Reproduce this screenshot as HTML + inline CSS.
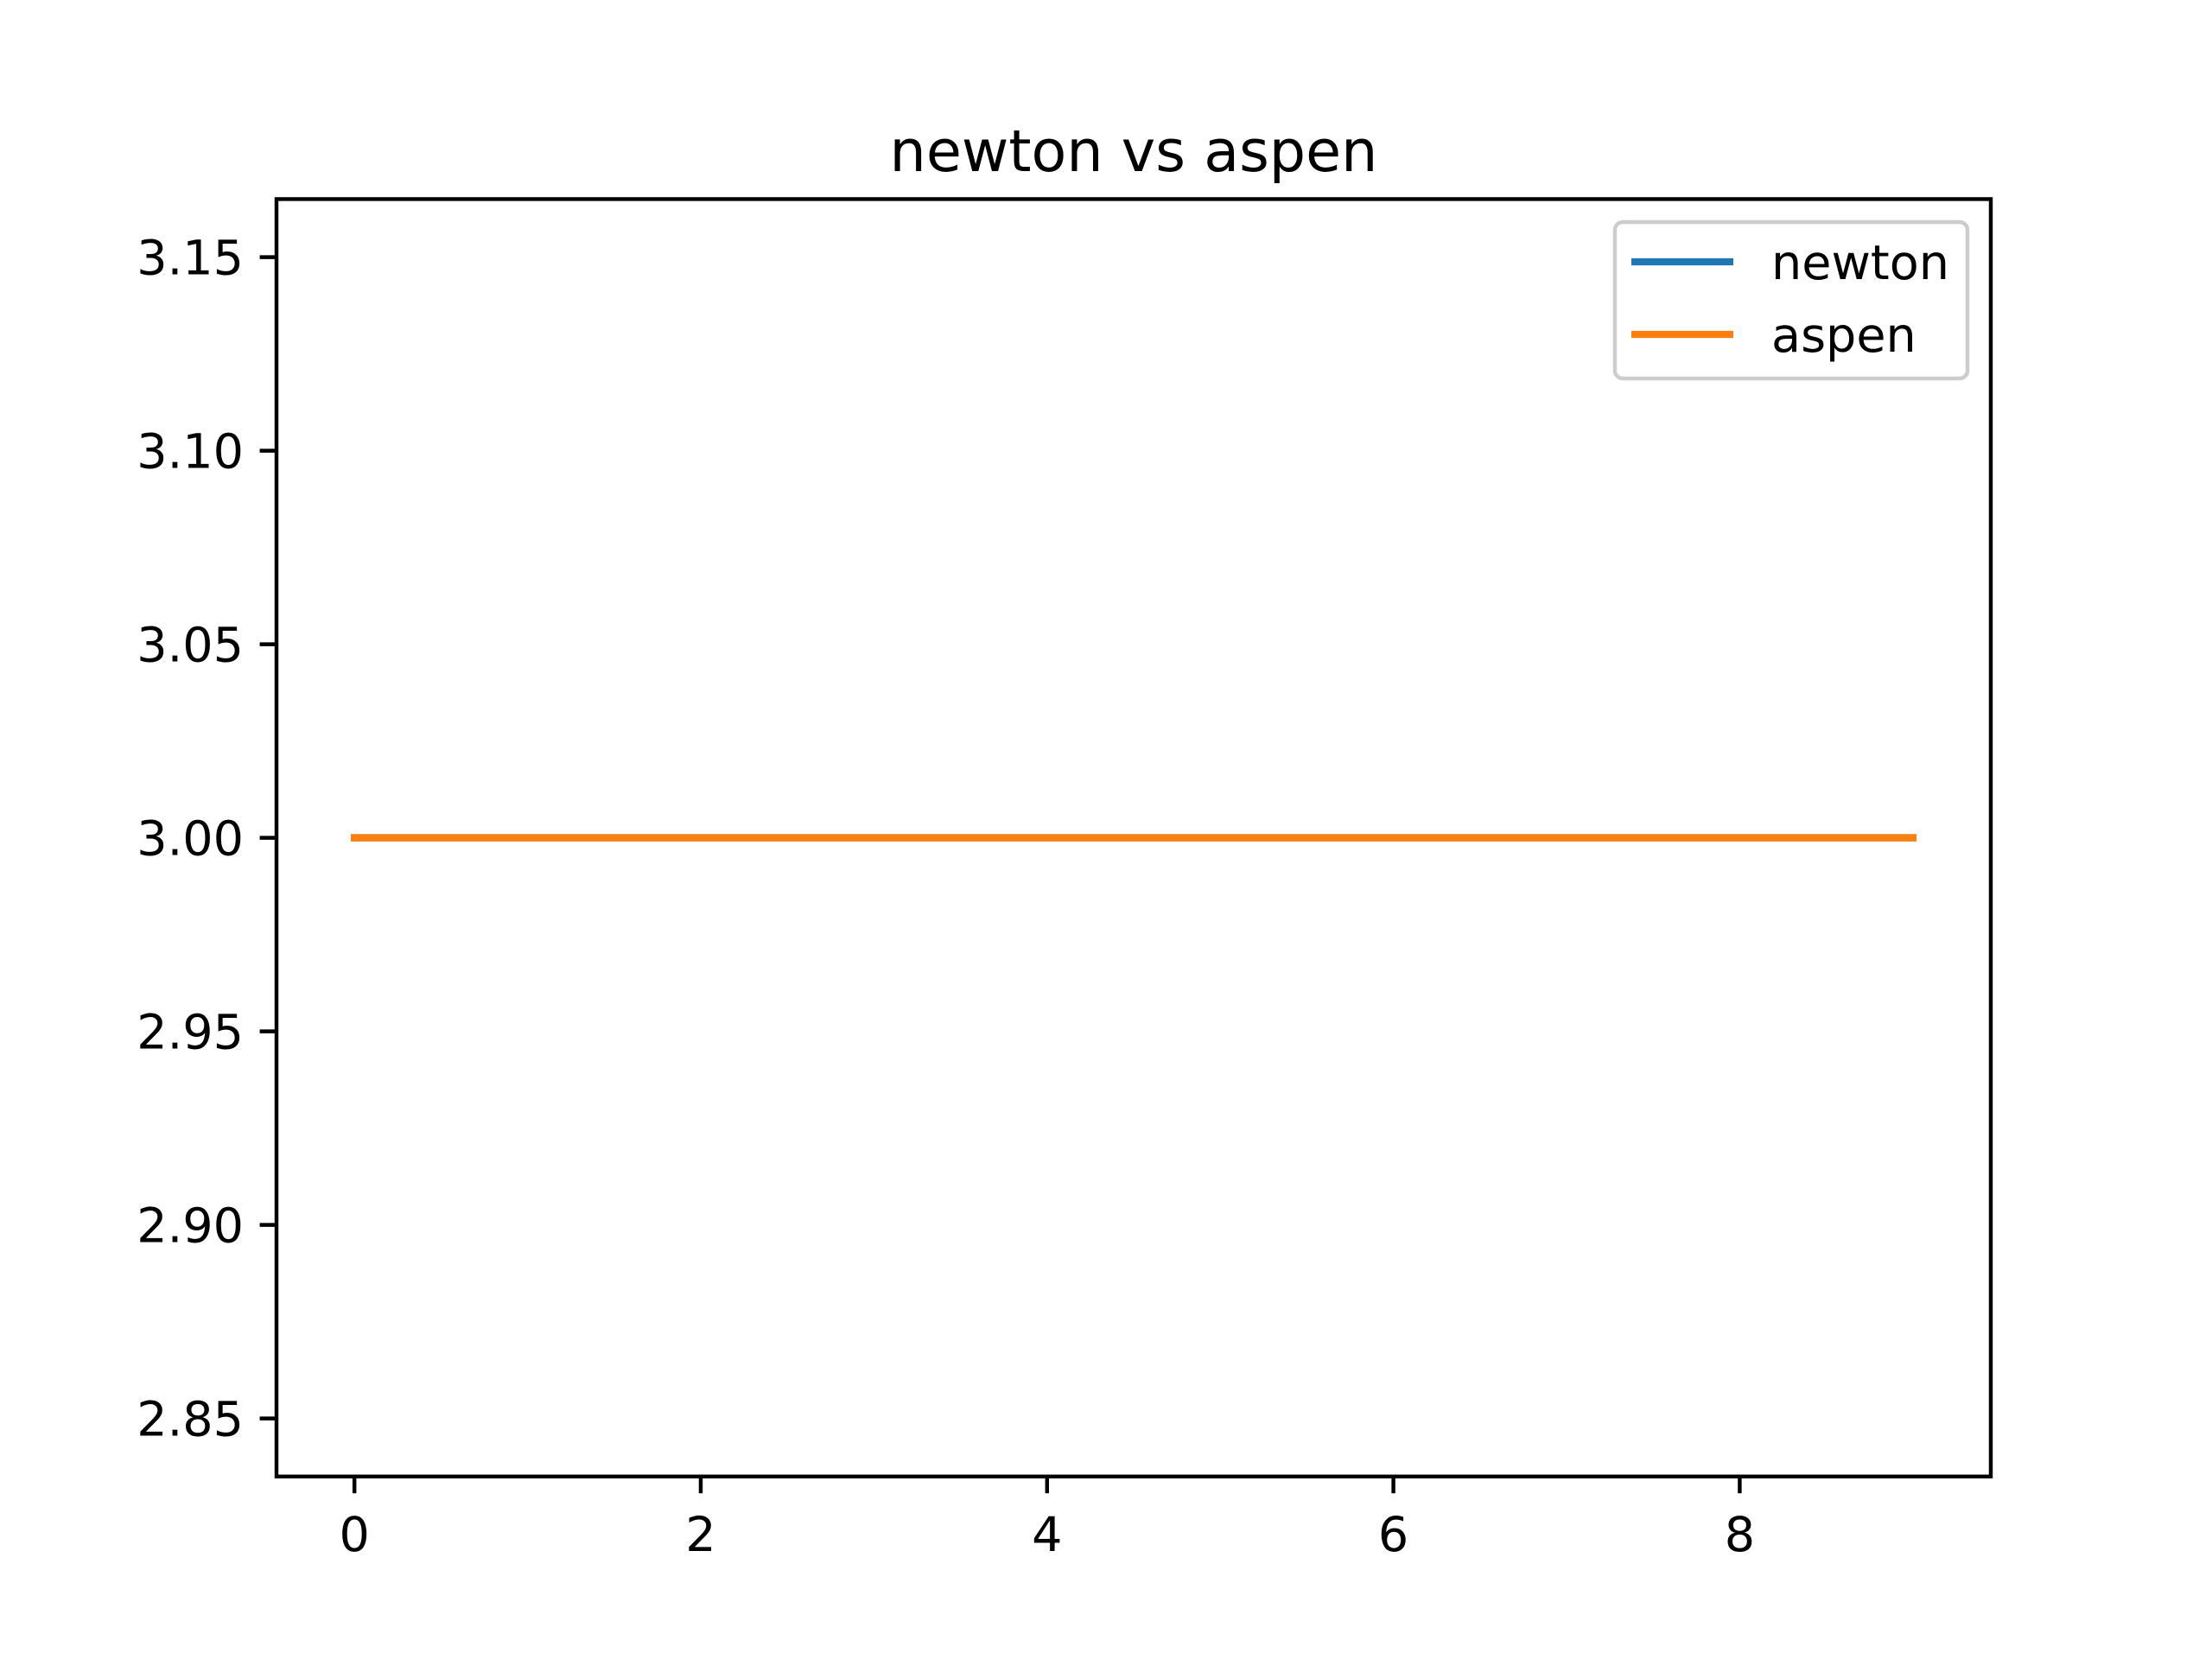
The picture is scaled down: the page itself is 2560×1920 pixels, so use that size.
<!DOCTYPE html>
<html><head><meta charset="utf-8"><style>
html,body{margin:0;padding:0;background:#fff;}
svg{display:block;font-family:"DejaVu Sans","Liberation Sans",sans-serif;}
</style></head><body>
<svg id="chart" width="2560" height="1920" viewBox="0 0 2560 1920" xmlns="http://www.w3.org/2000/svg">
<rect width="2560" height="1920" fill="#fff"/>
<text x="1312" y="198" font-size="66.7" text-anchor="middle" fill="#000">newton vs aspen</text>
<g id="plot"></g>
</svg>
<script>
const xValues = [0,1,2,3,4,5,6,7,8,9];
const newtonValues = [3,3,3,3,3,3,3,3,3,3];
const aspenValues = [3,3,3,3,3,3,3,3,3,3];
const xTicks = [0,2,4,6,8];
const yTicks = [2.85,2.90,2.95,3.00,3.05,3.10,3.15];
const yTickLabels = ["2.85","2.90","2.95","3.00","3.05","3.10","3.15"];

const L=320,R=2304,T=230.4,B=1708.8;
const xMin=-0.45,xMax=9.45,yMin=2.835,yMax=3.165;
const sx=v=>L+(v-xMin)/(xMax-xMin)*(R-L);
const sy=v=>B-(v-yMin)/(yMax-yMin)*(B-T);
const NS="http://www.w3.org/2000/svg";
const g=document.getElementById('plot');
function mk(tag,attrs,parent){const e=document.createElementNS(NS,tag);for(const k in attrs)e.setAttribute(k,attrs[k]);(parent||g).appendChild(e);return e;}

xTicks.forEach(t=>{
  const tk=mk('line',{x1:sx(t),x2:sx(t),y1:B,y2:B+19.4,stroke:'#000','stroke-width':4.44});
  
  
  const tx=mk('text',{x:sx(t),y:B+86,'font-size':55.6,'text-anchor':'middle',fill:'#000'});
  tx.textContent=String(t);
  
  
});
yTicks.forEach((t,i)=>{
  const tk=mk('line',{x1:L-19.4,x2:L,y1:sy(t),y2:sy(t),stroke:'#000','stroke-width':4.44});
  
  
  const tx=mk('text',{x:L-38,y:sy(t)+20,'font-size':55.6,'text-anchor':'end',fill:'#000'});
  tx.textContent=yTickLabels[i];
  
  
});
function series(vals,color,name){
  const p=mk('polyline',{points:xValues.map((x,i)=>sx(x)+','+sy(vals[i])).join(' '),fill:'none',stroke:color,'stroke-width':8.33,'stroke-linecap':'square'});
  
  
}
series(newtonValues,'#1f77b4','newton-line');
series(aspenValues,'#ff7f0e','aspen-line');

const frame=mk('rect',{x:L,y:T,width:R-L,height:B-T,fill:'none',stroke:'#000','stroke-width':4.44});



const lg=mk('g',{});


mk('rect',{x:1869,y:257,width:408,height:181,rx:9,fill:'#fff','fill-opacity':0.8,stroke:'#ccc','stroke-width':4.44},lg);
[['newton','#1f77b4',303],['aspen','#ff7f0e',387]].forEach(([n,c,y])=>{
  const e=mk('g',{},lg);
  
  
  mk('line',{x1:1888,x2:2006,y1:y,y2:y,stroke:c,'stroke-width':8.33},e);
  const t=mk('text',{x:2050,y:y+20,'font-size':55.6,fill:'#000'},e);
  t.textContent=n;
});
</script>
</body></html>
